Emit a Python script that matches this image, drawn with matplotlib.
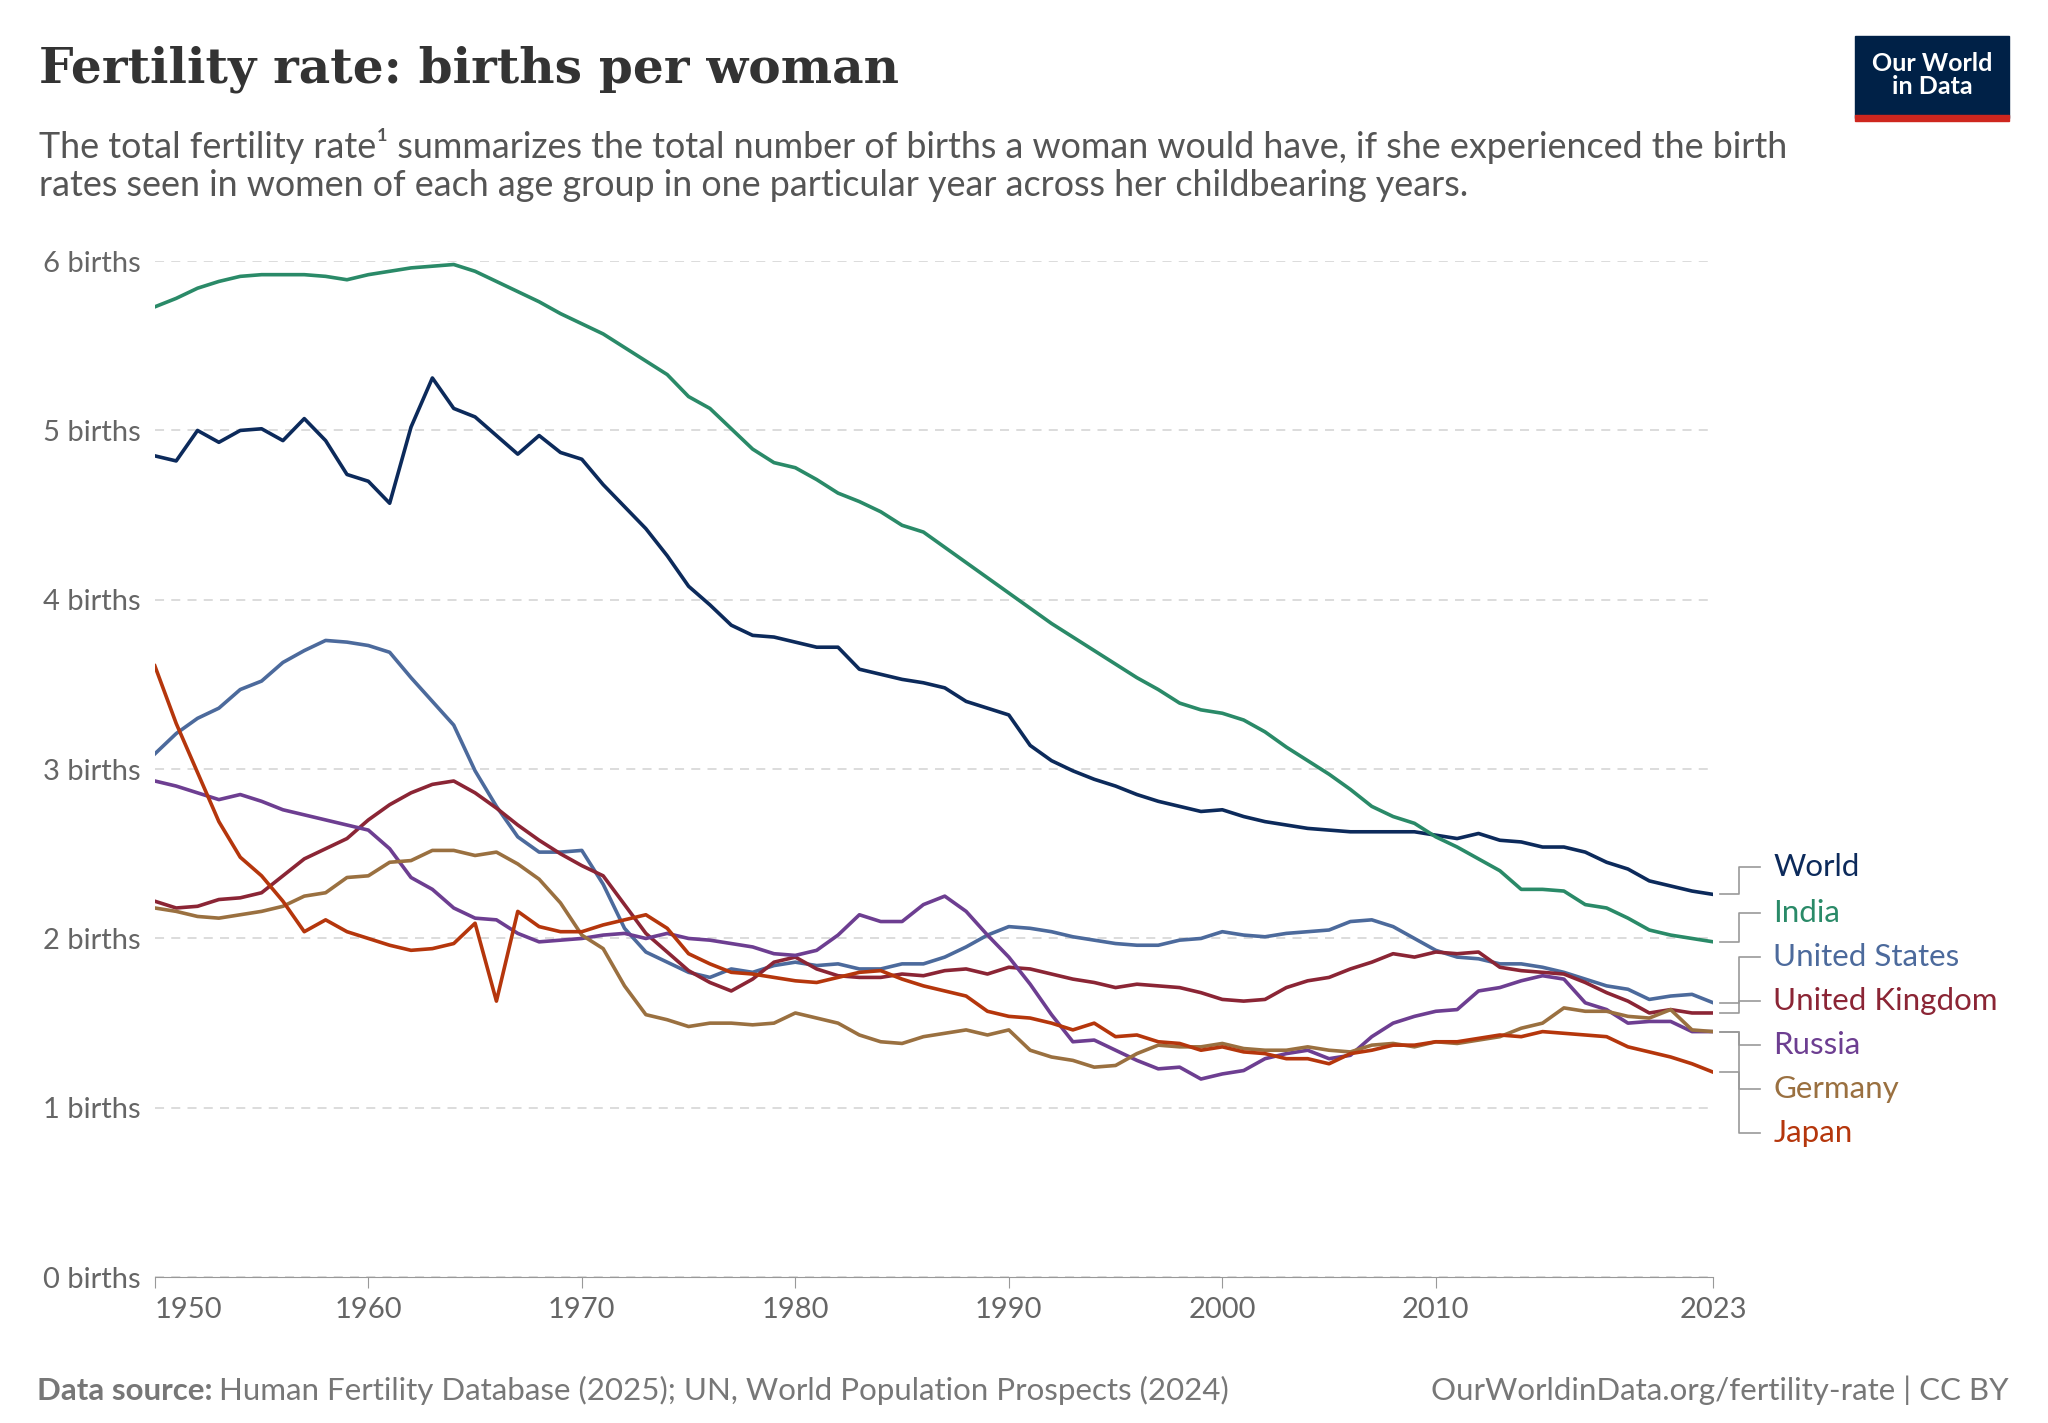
import matplotlib
matplotlib.use("Agg")
import matplotlib.pyplot as plt
from matplotlib.patches import Rectangle

plt.rcParams['font.family'] = ['Lato', 'DejaVu Sans']

years = list(range(1950, 2024))

world = [4.85, 4.82, 5.00, 4.93, 5.00, 5.01, 4.94, 5.07, 4.94, 4.74,
         4.70, 4.57, 5.02, 5.31, 5.13, 5.08, 4.97, 4.86, 4.97, 4.87,
         4.83, 4.68, 4.55, 4.42, 4.26, 4.08, 3.97, 3.85, 3.79, 3.78,
         3.75, 3.72, 3.72, 3.59, 3.56, 3.53, 3.51, 3.48, 3.40, 3.36,
         3.32, 3.14, 3.05, 2.99, 2.94, 2.90, 2.85, 2.81, 2.78, 2.75,
         2.76, 2.72, 2.69, 2.67, 2.65, 2.64, 2.63, 2.63, 2.63, 2.63,
         2.61, 2.59, 2.62, 2.58, 2.57, 2.54, 2.54, 2.51, 2.45, 2.41,
         2.34, 2.31, 2.28, 2.26]
india = [5.73, 5.78, 5.84, 5.88, 5.91, 5.92, 5.92, 5.92, 5.91, 5.89,
         5.92, 5.94, 5.96, 5.97, 5.98, 5.94, 5.88, 5.82, 5.76, 5.69,
         5.63, 5.57, 5.49, 5.41, 5.33, 5.20, 5.13, 5.01, 4.89, 4.81,
         4.78, 4.71, 4.63, 4.58, 4.52, 4.44, 4.40, 4.31, 4.22, 4.13,
         4.04, 3.95, 3.86, 3.78, 3.70, 3.62, 3.54, 3.47, 3.39, 3.35,
         3.33, 3.29, 3.22, 3.13, 3.05, 2.97, 2.88, 2.78, 2.72, 2.68,
         2.60, 2.54, 2.47, 2.40, 2.29, 2.29, 2.28, 2.20, 2.18, 2.12,
         2.05, 2.02, 2.00, 1.98]
usa = [3.09, 3.21, 3.30, 3.36, 3.47, 3.52, 3.63, 3.70, 3.76, 3.75,
       3.73, 3.69, 3.54, 3.40, 3.26, 2.99, 2.78, 2.60, 2.51, 2.51,
       2.52, 2.32, 2.06, 1.92, 1.86, 1.80, 1.77, 1.82, 1.80, 1.84,
       1.86, 1.84, 1.85, 1.82, 1.82, 1.85, 1.85, 1.89, 1.95, 2.02,
       2.07, 2.06, 2.04, 2.01, 1.99, 1.97, 1.96, 1.96, 1.99, 2.00,
       2.04, 2.02, 2.01, 2.03, 2.04, 2.05, 2.10, 2.11, 2.07, 2.00,
       1.93, 1.89, 1.88, 1.85, 1.85, 1.83, 1.80, 1.76, 1.72, 1.70,
       1.64, 1.66, 1.67, 1.62]
uk = [2.22, 2.18, 2.19, 2.23, 2.24, 2.27, 2.37, 2.47, 2.53, 2.59,
      2.70, 2.79, 2.86, 2.91, 2.93, 2.86, 2.77, 2.67, 2.58, 2.50,
      2.43, 2.37, 2.20, 2.03, 1.92, 1.81, 1.74, 1.69, 1.76, 1.86,
      1.89, 1.82, 1.78, 1.77, 1.77, 1.79, 1.78, 1.81, 1.82, 1.79,
      1.83, 1.82, 1.79, 1.76, 1.74, 1.71, 1.73, 1.72, 1.71, 1.68,
      1.64, 1.63, 1.64, 1.71, 1.75, 1.77, 1.82, 1.86, 1.91, 1.89,
      1.92, 1.91, 1.92, 1.83, 1.81, 1.80, 1.79, 1.74, 1.68, 1.63,
      1.56, 1.58, 1.56, 1.56]
russia = [2.93, 2.90, 2.86, 2.82, 2.85, 2.81, 2.76, 2.73, 2.70, 2.67,
          2.64, 2.53, 2.36, 2.29, 2.18, 2.12, 2.11, 2.03, 1.98, 1.99,
          2.00, 2.02, 2.03, 2.00, 2.03, 2.00, 1.99, 1.97, 1.95, 1.91,
          1.90, 1.93, 2.02, 2.14, 2.10, 2.10, 2.20, 2.25, 2.16, 2.02,
          1.89, 1.73, 1.55, 1.39, 1.40, 1.34, 1.28, 1.23, 1.24, 1.17,
          1.20, 1.22, 1.29, 1.32, 1.34, 1.29, 1.31, 1.42, 1.50, 1.54,
          1.57, 1.58, 1.69, 1.71, 1.75, 1.78, 1.76, 1.62, 1.58, 1.50,
          1.51, 1.51, 1.45, 1.45]
germany = [2.18, 2.16, 2.13, 2.12, 2.14, 2.16, 2.19, 2.25, 2.27, 2.36,
           2.37, 2.45, 2.46, 2.52, 2.52, 2.49, 2.51, 2.44, 2.35, 2.21,
           2.02, 1.94, 1.72, 1.55, 1.52, 1.48, 1.50, 1.50, 1.49, 1.50,
           1.56, 1.53, 1.50, 1.43, 1.39, 1.38, 1.42, 1.44, 1.46, 1.43,
           1.46, 1.34, 1.30, 1.28, 1.24, 1.25, 1.32, 1.37, 1.36, 1.36,
           1.38, 1.35, 1.34, 1.34, 1.36, 1.34, 1.33, 1.37, 1.38, 1.36,
           1.39, 1.38, 1.40, 1.42, 1.47, 1.50, 1.59, 1.57, 1.57, 1.54,
           1.53, 1.58, 1.46, 1.45]
japan = [3.61, 3.27, 2.98, 2.69, 2.48, 2.37, 2.22, 2.04, 2.11, 2.04,
         2.00, 1.96, 1.93, 1.94, 1.97, 2.09, 1.63, 2.16, 2.07, 2.04,
         2.04, 2.08, 2.11, 2.14, 2.06, 1.91, 1.85, 1.80, 1.79, 1.77,
         1.75, 1.74, 1.77, 1.80, 1.81, 1.76, 1.72, 1.69, 1.66, 1.57,
         1.54, 1.53, 1.50, 1.46, 1.50, 1.42, 1.43, 1.39, 1.38, 1.34,
         1.36, 1.33, 1.32, 1.29, 1.29, 1.26, 1.32, 1.34, 1.37, 1.37,
         1.39, 1.39, 1.41, 1.43, 1.42, 1.45, 1.44, 1.43, 1.42, 1.36,
         1.33, 1.30, 1.26, 1.21]

names = ["World", "India", "United States", "United Kingdom", "Russia", "Germany", "Japan"]
series = [world, india, usa, uk, russia, germany, japan]
colors = ["#0c2a5b", "#2a8a68", "#4c6a9c", "#8b2535", "#6d3e91", "#9a7040", "#b5360c"]
label_y = [2.42, 2.15, 1.89, 1.63, 1.37, 1.11, 0.85]

fig = plt.figure(figsize=(20.48, 14.23), dpi=100)
ax = fig.add_axes([0.0756, 0.1025, 0.761, 0.714])

for vals, c in zip(series, colors):
    ax.plot(years, vals, color=c, lw=2.6, solid_joinstyle='round')

# label connectors
for vals, c, ly, name in zip(series, colors, label_y, names):
    end = vals[-1]
    ax.plot([2023.3, 2024.2, 2024.2, 2025.2], [end, end, ly, ly],
            color="#999999", lw=1.2, clip_on=False)
    ax.text(2025.8, ly, name, color=c, fontsize=22.5, va='center', clip_on=False)

ax.set_xlim(1950, 2023)
ax.set_ylim(0, 6)
ax.set_yticks(range(0, 7))
ax.set_yticklabels([f"{i} births" for i in range(0, 7)])
ax.set_xticks([1950, 1960, 1970, 1980, 1990, 2000, 2010, 2023])
ax.grid(axis='y', color='#d9d9d9', ls=(0, (5, 4)), lw=1.3)
ax.set_axisbelow(True)
for s in ['top', 'right', 'left']:
    ax.spines[s].set_visible(False)
ax.spines['bottom'].set_color('#999999')
ax.tick_params(axis='y', length=0, labelsize=21, labelcolor='#666666', pad=10)
ax.tick_params(axis='x', length=8, color='#999999', labelsize=21, labelcolor='#666666', pad=6)
ax.get_xticklabels()[0].set_horizontalalignment('left')

fig.text(0.019, 0.951, "Fertility rate: births per woman", family=['DejaVu Serif'],
         fontsize=35, fontweight='bold', color='#333333', va='center')
fig.text(0.019, 0.884, "The total fertility rate\u00b9 summarizes the total number of births a woman would have, if she experienced the birth\n"
         "rates seen in women of each age group in one particular year across her childbearing years.",
         fontsize=25.8, color='#555555', va='center', linespacing=1.2)

# logo
fig.patches.append(Rectangle((0.906, 0.917), 0.075, 0.058, transform=fig.transFigure,
                             color='#002147', zorder=5))
fig.patches.append(Rectangle((0.906, 0.915), 0.075, 0.004, transform=fig.transFigure,
                             color='#ce261e', zorder=6))
fig.text(0.9435, 0.947, "Our World\nin Data", color='white', fontsize=18, ha='center', va='center',
         fontweight='bold', linespacing=1.0, zorder=7)

fig.text(0.018, 0.016, "Data source:", fontsize=22.5, color='#777777', fontweight='bold')
fig.text(0.107, 0.016, "Human Fertility Database (2025); UN, World Population Prospects (2024)",
         fontsize=22.5, color='#777777')
fig.text(0.981, 0.016, "OurWorldinData.org/fertility-rate | CC BY", fontsize=22.5, color='#777777', ha='right')

fig.savefig("out.png", dpi=100)
